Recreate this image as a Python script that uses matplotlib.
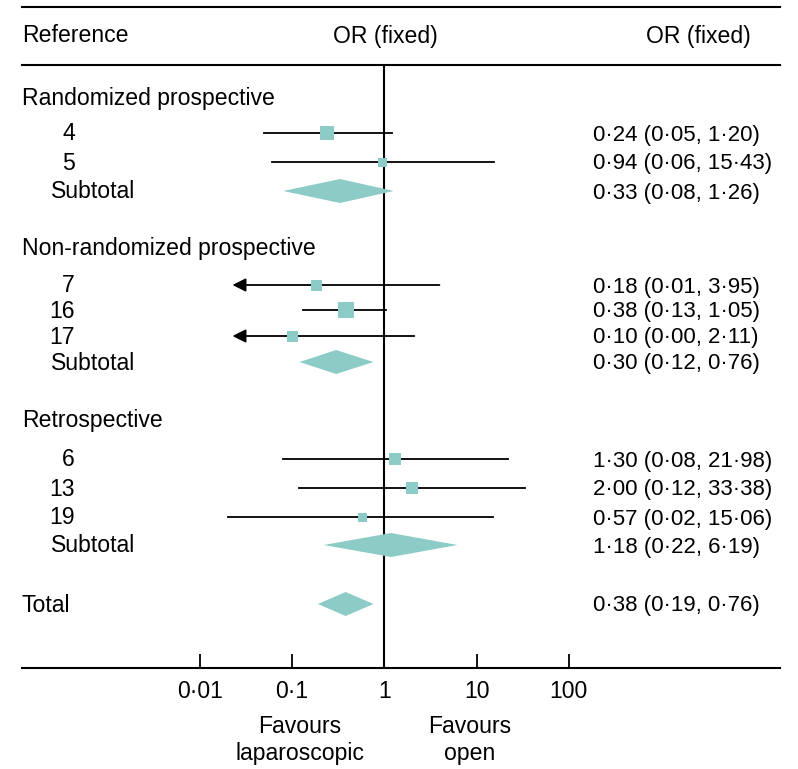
import numpy as np
import matplotlib
matplotlib.use("Agg")
from matplotlib import pyplot as plt

plt.rcParams['font.family'] = ['Liberation Sans', 'DejaVu Sans']

# Data
groups = ["Randomized prospective", "Non-randomized prospective", "Retrospective"]
studies = ["4", "5", "7", "16", "17", "6", "13", "19"]
odds = [0.24, 0.94, 0.18, 0.38, 0.10, 1.30, 2.00, 0.57]
ci_lo = [0.05, 0.06, 0.01, 0.13, 0.00, 0.08, 0.12, 0.02]
ci_hi = [1.20, 15.43, 3.95, 1.05, 2.11, 21.98, 33.38, 15.06]
box_px = [14, 9, 11, 16, 11, 12, 12, 9]   # marker size ~ weight

sub_or = [0.33, 0.30, 1.18]
sub_lo = [0.08, 0.12, 0.22]
sub_hi = [1.26, 0.76, 6.19]

tot_or, tot_lo, tot_hi = 0.38, 0.19, 0.76

ticks = [0.01, 0.1, 1, 10, 100]
tick_labels = ["0\u00b701", "0\u00b71", "1", "10", "100"]

# Layout (vertical positions in pixel rows)
y_header = 35
y_group = [97, 247, 420]
y_study = [133, 162, 285, 310, 336, 459, 488, 517]
y_sub = [191, 362, 545]
y_total = 604

teal = "#8ccbc6"
fs = 16.6
fs_num = 16.0
clip = 0.02
base = 7.5   # shift from row centre to text baseline

W, H = 798, 769
fig = plt.figure(figsize=(W / 100, H / 100), dpi=100)
ax = fig.add_axes([22 / W, (H - 668) / H, (780 - 22) / W, (668 - 65) / H])
ax.set_xscale('log')
ax.set_xlim(10 ** -3.93, 10 ** 4.29)
ax.set_ylim(668, 65)

for s in ['left', 'right']:
    ax.spines[s].set_visible(False)
ax.spines['top'].set_linewidth(1.5)
ax.spines['bottom'].set_linewidth(1.5)
ax.set_yticks([])
ax.set_xticks(ticks)
ax.set_xticklabels(tick_labels, fontsize=fs)
ax.minorticks_off()
ax.tick_params(axis='x', direction='in', length=10, width=1.3, pad=9)

ax.axvline(1, color='k', lw=1.5, zorder=1)
ax.plot([0, 1], [7, 7], transform=ax.get_yaxis_transform(), color='k',
        lw=1.5, clip_on=False)

tr = ax.get_yaxis_transform()


def fx(px):
    return (px - 22) / (780 - 22)


def label(px, y, s, ha='left', size=fs):
    ax.text(fx(px), y + base, s, transform=tr, fontsize=size,
            va='baseline', ha=ha)


def fmt(v):
    return f"{v:.2f}".replace(".", "\u00b7")


def ci_text(o, lo, hi):
    return f"{fmt(o)} ({fmt(lo)}, {fmt(hi)})"


def diamond(o, lo, hi, y, h=12):
    ax.fill([lo, o, hi, o], [y, y - h, y, y + h], color=teal, lw=0, zorder=3)


# Headers
label(22, y_header, "Reference")
label(385, y_header, "OR (fixed)", ha='center')
label(698, y_header, "OR (fixed)", ha='center')

for g, y in zip(groups, y_group):
    label(22, y, g)

for i, name in enumerate(studies):
    y = y_study[i]
    label(75, y, name, ha='right')
    lo, hi = ci_lo[i], ci_hi[i]
    if lo < clip - 1e-9:
        ax.annotate('', xy=(0.0225, y), xytext=(hi, y),
                    arrowprops=dict(arrowstyle='-|>', color='k', lw=1.3,
                                    mutation_scale=20, shrinkA=0, shrinkB=0))
    else:
        ax.plot([lo, hi], [y, y], color='k', lw=1.3, zorder=2)
    ax.scatter([odds[i]], [y], marker='s', s=(box_px[i] * 0.72) ** 2,
               color=teal, zorder=4, linewidths=0)
    label(593, y, ci_text(odds[i], lo, hi), size=fs_num)

for k in range(3):
    y = y_sub[k]
    label(51, y, "Subtotal")
    diamond(sub_or[k], sub_lo[k], sub_hi[k], y)
    label(593, y, ci_text(sub_or[k], sub_lo[k], sub_hi[k]), size=fs_num)

label(22, y_total, "Total")
diamond(tot_or, tot_lo, tot_hi, y_total)
label(593, y_total, ci_text(tot_or, tot_lo, tot_hi), size=fs_num)

# Favours labels (baselines in pixel rows)
for px, words in [(300, ["Favours", "laparoscopic"]), (470, ["Favours", "open"])]:
    for yb, w in zip([733, 760], words):
        fig.text(px / W, 1 - yb / H, w, fontsize=fs, ha='center', va='baseline')

fig.savefig("out.png", dpi=100)
